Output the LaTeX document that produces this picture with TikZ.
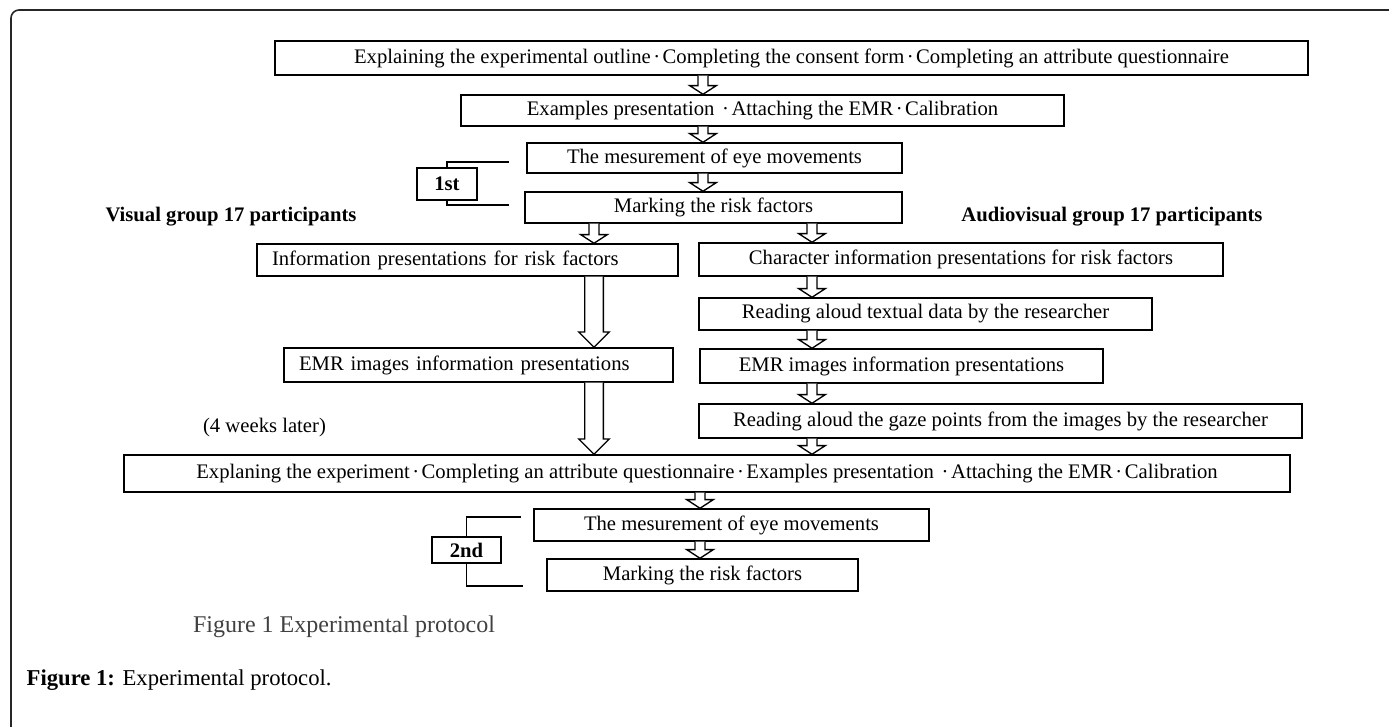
\documentclass[tikz,border=0pt]{standalone}
\usepackage{fontspec}
\setmainfont{Liberation Serif}
\usetikzlibrary{calc}

\newcommand{\mdot}{\hspace{0.12em}·\hspace{0.12em}}
% block arrow: shaft half width, head half width, head length, x, from, to
\newcommand{\blk}[6]{%
  \draw[blkarrow] let \p1=(#5.south -| #4), \p2=(#6.north -| #4) in
    (\x1-#1,\y1) -- (\x1-#1,\y2+#3) -- (\x1-#2,\y2+#3) -- (\x2,\y2)
    -- (\x1+#2,\y2+#3) -- (\x1+#1,\y2+#3) -- (\x1+#1,\y1);}

\tikzset{
  box/.style={draw, line width=1.1pt, inner sep=0pt, font=\fontsize{15.5}{18}\selectfont},
  lbl/.style={font=\fontsize{15.5}{18}\selectfont\bfseries},
  blkarrow/.style={draw, line width=1pt, fill=white, line join=miter},
  brk/.style={line width=1.1pt},
}

\begin{document}
\begin{tikzpicture}[x=0.75pt, y=-0.75pt]
  \useasboundingbox (0,0) rectangle (1389,727);
  \draw[line width=1.2pt, black!85, rounded corners=6pt] (11,727) -- (11,10) -- (1389,10);

  % first session
  \node[box, minimum width=774.75pt, minimum height=25.5pt] (s1) at (791.5,58)
    {Explaining the experimental outline\mdot Completing the consent form\mdot Completing an attribute questionnaire};
  \node[box, minimum width=452.25pt, minimum height=23.25pt] (s2) at (762.5,110.5)
    {Examples presentation \mdot Attaching the EMR\mdot Calibration};
  \node[box, minimum width=281.25pt, minimum height=22.5pt] (s3) at (714.5,158)
    {The mesurement of eye movements};
  \node[box, minimum width=282.75pt, minimum height=23.25pt] (s4) at (713.5,207.5)
    {Marking the risk factors};
  \node[box, font=\fontsize{15.5}{18}\selectfont\bfseries, minimum width=45pt, minimum height=24pt] (f1) at (447,184) {1st};
  \coordinate (k1t) at (509,162);
  \coordinate (k1b) at (509,205);
  \draw[brk] (f1.north) |- (k1t);
  \draw[brk] (f1.south) |- (k1b);

  \node[lbl] (vis) at (231,217) {Visual group 17 participants};
  \node[lbl] (aud) at (1112,217) {Audiovisual group 17 participants};

  % visual group
  \node[box, minimum width=315.75pt, minimum height=24pt, text width=293.25pt, align=left] (v1) at (467.5,260)
    {Information presentations for risk factors};
  \node[box, minimum width=291.75pt, minimum height=25.5pt, text width=269.25pt, align=left] (v2) at (478.5,365)
    {EMR images information presentations};

  % audiovisual group
  \node[box, minimum width=393pt, minimum height=24.75pt] (a1) at (961,259.5)
    {Character information presentations for risk factors};
  \node[box, minimum width=339.75pt, minimum height=24pt] (a2) at (925.5,314)
    {Reading aloud textual data by the researcher};
  \node[box, minimum width=302.25pt, minimum height=25.5pt] (a3) at (901.5,366)
    {EMR images information presentations};
  \node[box, minimum width=452.25pt, minimum height=25.5pt] (a4) at (1000.5,421)
    {Reading aloud the gaze points from the images by the researcher};

  \node[font=\fontsize{15.5}{18}\selectfont] (wk) at (264.5,428) {(4 weeks later)};

  % second session
  \node[box, minimum width=874.5pt, minimum height=27.75pt] (e) at (707,473.5)
    {Explaning the experiment\mdot Completing an attribute questionnaire\mdot Examples presentation \mdot Attaching the EMR\mdot Calibration};
  \node[box, minimum width=296.25pt, minimum height=24pt] (m1) at (731.5,525)
    {The mesurement of eye movements};
  \node[box, minimum width=233.25pt, minimum height=24pt] (m2) at (702.5,575)
    {Marking the risk factors};
  \node[box, font=\fontsize{15.5}{18}\selectfont\bfseries, minimum width=51.75pt, minimum height=19.5pt] (f2) at (466.5,550) {2nd};
  \coordinate (k2t) at (521,517);
  \coordinate (k2b) at (523,586);
  \draw[brk] (f2.north) |- (k2t);
  \draw[brk] (f2.south) |- (k2b);

  % arrows
  \coordinate (cx1) at (703,0);
  \coordinate (cx2) at (594,0);
  \coordinate (cx3) at (812,0);
  \coordinate (cx4) at (700,0);
  \blk{3.75pt}{10pt}{6.5pt}{cx1}{s1}{s2}
  \blk{3.75pt}{10pt}{6.5pt}{cx1}{s2}{s3}
  \blk{3.75pt}{10pt}{6.5pt}{cx1}{s3}{s4}
  \blk{3.75pt}{10pt}{6.5pt}{cx2}{s4}{v1}
  \blk{3.75pt}{10pt}{6.5pt}{cx3}{s4}{a1}
  \blk{7pt}{11.5pt}{11.5pt}{cx2}{v1}{v2}
  \blk{7pt}{11.5pt}{11.5pt}{cx2}{v2}{e}
  \blk{3.75pt}{10pt}{6.5pt}{cx3}{a1}{a2}
  \blk{3.75pt}{10pt}{6.5pt}{cx3}{a2}{a3}
  \blk{3.75pt}{10pt}{6.5pt}{cx3}{a3}{a4}
  \blk{3.75pt}{10pt}{6.5pt}{cx3}{a4}{e}
  \blk{3.75pt}{10pt}{6.5pt}{cx4}{e}{m1}
  \blk{3.75pt}{10pt}{6.5pt}{cx4}{m1}{m2}

  % captions
  \node[font=\fontsize{18}{21}\selectfont, text=black!75] (cap1) at (344,627) {Figure 1 Experimental protocol};
  \node[anchor=west, font=\fontsize{17}{20}\selectfont] (cap2) at (22,680) {\textbf{Figure 1:} Experimental protocol.};
\end{tikzpicture}
\end{document}
